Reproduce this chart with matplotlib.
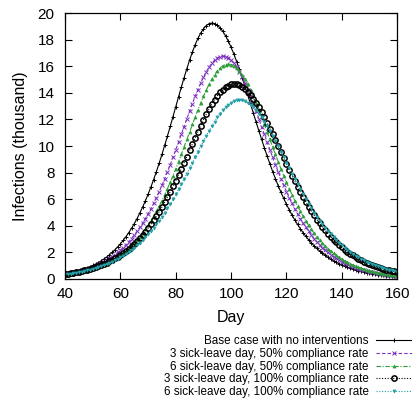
import matplotlib
matplotlib.use("Agg")
import matplotlib.pyplot as plt
import numpy as np

plt.rcParams["font.family"] = ["Liberation Sans", "DejaVu Sans"]

black  = "#000000"
purple = "#7B2FBE"
green  = "#2E9E3A"
teal   = "#25A0A8"

days = np.arange(40, 161)

# infections (thousand), one value per day
base = [0.38, 0.42, 0.46, 0.51, 0.56, 0.62, 0.69, 0.76, 0.84, 0.92,
        1.02, 1.12, 1.23, 1.36, 1.50, 1.65, 1.81, 1.99, 2.19, 2.41,
        2.64, 2.90, 3.18, 3.48, 3.81, 4.16, 4.54, 4.96, 5.40, 5.87,
        6.38, 6.91, 7.48, 8.08, 8.71, 9.37, 10.06, 10.76, 11.48, 12.22,
        12.96, 13.70, 14.43, 15.14, 15.82, 16.47, 17.07, 17.62, 18.10, 18.50,
        18.82, 19.06, 19.20, 19.25,
        19.21, 19.08, 18.89, 18.62, 18.28, 17.88, 17.42, 16.91, 16.35, 15.76,
        15.14, 14.49, 13.83, 13.16, 12.49, 11.82, 11.16, 10.51, 9.87, 9.25,
        8.66, 8.08, 7.54, 7.02, 6.52, 6.06, 5.61, 5.20, 4.81, 4.44,
        4.10, 3.78, 3.48, 3.20, 2.95, 2.71, 2.49, 2.29, 2.10, 1.93,
        1.77, 1.62, 1.49, 1.36, 1.25, 1.14, 1.05, 0.96, 0.88, 0.80,
        0.73, 0.67, 0.61, 0.56, 0.51, 0.47, 0.43, 0.39, 0.36, 0.33,
        0.30, 0.27, 0.25, 0.23, 0.21, 0.19, 0.17]

sick3_50 = [0.37, 0.41, 0.45, 0.49, 0.53, 0.58, 0.64, 0.70, 0.76, 0.83,
            0.91, 0.99, 1.09, 1.18, 1.29, 1.41, 1.54, 1.68, 1.83, 1.99,
            2.17, 2.36, 2.57, 2.79, 3.03, 3.29, 3.57, 3.87, 4.19, 4.53,
            4.89, 5.28, 5.68, 6.11, 6.57, 7.04, 7.54, 8.06, 8.60, 9.15,
            9.72, 10.30, 10.88, 11.46, 12.05, 12.62, 13.19, 13.73, 14.25, 14.73,
            15.17, 15.57, 15.92, 16.22, 16.45, 16.63, 16.73,
            16.77,
            16.73, 16.63, 16.45, 16.22, 15.92, 15.57, 15.17, 14.73, 14.25, 13.73,
            13.19, 12.62, 12.05, 11.46, 10.88, 10.30, 9.72, 9.15, 8.60, 8.06,
            7.54, 7.04, 6.57, 6.11, 5.68, 5.28, 4.89, 4.53, 4.19, 3.87,
            3.57, 3.29, 3.03, 2.79, 2.57, 2.36, 2.17, 1.99, 1.83, 1.68,
            1.54, 1.41, 1.29, 1.18, 1.09, 0.99, 0.91, 0.83, 0.76, 0.70,
            0.64, 0.58, 0.53, 0.49, 0.45, 0.41, 0.37, 0.34, 0.31, 0.28,
            0.26, 0.24, 0.22]

sick6_50 = [0.30, 0.33, 0.36, 0.39, 0.43, 0.47, 0.51, 0.56, 0.62, 0.67,
            0.74, 0.80, 0.88, 0.96, 1.05, 1.14, 1.25, 1.36, 1.49, 1.62,
            1.77, 1.92, 2.09, 2.28, 2.48, 2.69, 2.92, 3.17, 3.44, 3.73,
            4.04, 4.37, 4.72, 5.09, 5.48, 5.90, 6.33, 6.79, 7.27, 7.77,
            8.29, 8.82, 9.37, 9.93, 10.49, 11.05, 11.62, 12.17, 12.72, 13.24,
            13.74, 14.20, 14.63, 15.02, 15.35, 15.64, 15.87, 16.03, 16.13,
            16.17,
            16.13, 16.03, 15.87, 15.64, 15.35, 15.02, 14.63, 14.20, 13.74, 13.24,
            12.72, 12.17, 11.62, 11.05, 10.49, 9.93, 9.37, 8.82, 8.29, 7.77,
            7.27, 6.79, 6.33, 5.90, 5.48, 5.09, 4.72, 4.37, 4.04, 3.73,
            3.44, 3.17, 2.92, 2.69, 2.48, 2.28, 2.09, 1.92, 1.77, 1.62,
            1.49, 1.36, 1.25, 1.14, 1.05, 0.96, 0.88, 0.80, 0.74, 0.67,
            0.62, 0.56, 0.51, 0.47, 0.43, 0.39, 0.36, 0.33, 0.30, 0.27,
            0.25]

sick3_100 = [0.36, 0.39, 0.42, 0.46, 0.50, 0.54, 0.59, 0.64, 0.69, 0.75,
             0.81, 0.88, 0.96, 1.04, 1.12, 1.22, 1.32, 1.43, 1.54, 1.67,
             1.81, 1.95, 2.11, 2.28, 2.46, 2.65, 2.86, 3.08, 3.31, 3.56,
             3.83, 4.11, 4.41, 4.73, 5.06, 5.41, 5.78, 6.16, 6.56, 6.97,
             7.40, 7.84, 8.29, 8.75, 9.21, 9.68, 10.15, 10.62, 11.08, 11.53,
             11.96, 12.38, 12.77, 13.14, 13.48, 13.78, 14.04, 14.25, 14.42, 14.55,
             14.63,
             14.66,
             14.64, 14.56, 14.44, 14.29, 14.09, 13.84, 13.56, 13.25, 12.91, 12.54,
             12.15, 11.74, 11.31, 10.88, 10.43, 9.98, 9.53, 9.08, 8.64, 8.20,
             7.77, 7.35, 6.94, 6.54, 6.16, 5.79, 5.44, 5.10, 4.78, 4.47,
             4.18, 3.91, 3.65, 3.40, 3.17, 2.95, 2.75, 2.56, 2.38, 2.21,
             2.05, 1.90, 1.77, 1.64, 1.52, 1.41, 1.31, 1.21, 1.12, 1.04,
             0.96, 0.89, 0.82, 0.76, 0.70, 0.65, 0.60, 0.56, 0.51]

sick6_100 = [0.34, 0.37, 0.40, 0.44, 0.47, 0.51, 0.55, 0.60, 0.64, 0.70,
             0.75, 0.81, 0.88, 0.95, 1.03, 1.11, 1.20, 1.29, 1.39, 1.50,
             1.62, 1.75, 1.88, 2.02, 2.18, 2.35, 2.52, 2.71, 2.91, 3.12,
             3.35, 3.59, 3.84, 4.10, 4.39, 4.68, 4.99, 5.31, 5.65, 6.00,
             6.37, 6.74, 7.13, 7.52, 7.92, 8.33, 8.74, 9.16, 9.57, 9.98,
             10.38, 10.77, 11.15, 11.51, 11.84, 12.16, 12.44, 12.70, 12.93, 13.11,
             13.25, 13.36, 13.43,
             13.45,
             13.43, 13.36, 13.25, 13.11, 12.93, 12.70, 12.44, 12.16, 11.84, 11.51,
             11.15, 10.77, 10.38, 9.98, 9.57, 9.16, 8.74, 8.33, 7.92, 7.52,
             7.13, 6.74, 6.37, 6.00, 5.65, 5.31, 4.99, 4.68, 4.39, 4.10,
             3.84, 3.59, 3.35, 3.12, 2.91, 2.71, 2.52, 2.35, 2.18, 2.02,
             1.88, 1.75, 1.62, 1.50, 1.39, 1.29, 1.20, 1.11, 1.03, 0.95,
             0.88, 0.81, 0.75, 0.70, 0.64, 0.60, 0.55]

labels = ["Base case with no interventions",
          "3 sick-leave day, 50% compliance rate",
          "6 sick-leave day, 50% compliance rate",
          "3 sick-leave day, 100% compliance rate",
          "6 sick-leave day, 100% compliance rate"]

x_ticks = [40, 60, 80, 100, 120, 140, 160]
y_ticks = [0, 2, 4, 6, 8, 10, 12, 14, 16, 18, 20]

fig = plt.figure(figsize=(4.12, 4.09), dpi=100)
ax = fig.add_axes([0.158, 0.318, 0.806, 0.650])

ax.plot(days, base, color=black, lw=0.8, ls="-", marker="+", ms=3.5, mew=0.7,
        label=labels[0])
ax.plot(days, sick3_50, color=purple, lw=0.8, ls=(0, (3, 2)), marker="x", ms=3, mew=0.7,
        label=labels[1])
ax.plot(days, sick6_50, color=green, lw=0.8, ls=(0, (4, 1.5, 1, 1.5)), marker="^", ms=2.2,
        mew=0.5, label=labels[2])
ax.plot(days, sick3_100, color=black, lw=0.8, ls=(0, (1, 1.5)), marker="o", ms=3.8,
        mfc="none", mew=1.1, label=labels[3])
ax.plot(days, sick6_100, color=teal, lw=0.8, ls=(0, (1, 1.5)), marker="v", ms=2.2,
        mew=0.5, label=labels[4])

ax.set_xlim(40, 160)
ax.set_ylim(0, 20)
ax.set_xticks(x_ticks)
ax.set_yticks(y_ticks)
ax.tick_params(which="both", direction="in", top=True, right=True, labelsize=11,
               length=5, width=0.8)
ax.tick_params(axis="x", pad=6)
ax.tick_params(axis="y", pad=7.5)
for s in ax.spines.values():
    s.set_linewidth(0.9)

ax.set_xlabel("Day", fontsize=11.5, labelpad=6)
ax.set_ylabel("Infections (thousand)", fontsize=11.5, labelpad=7)

fig.legend(loc="upper right", bbox_to_anchor=(1.0, 0.180), frameon=False,
           markerfirst=False, fontsize=8.4, handlelength=3.1, handletextpad=0.6,
           labelspacing=0.06, numpoints=1, borderaxespad=0, borderpad=0)

fig.savefig("out.png", dpi=100)
